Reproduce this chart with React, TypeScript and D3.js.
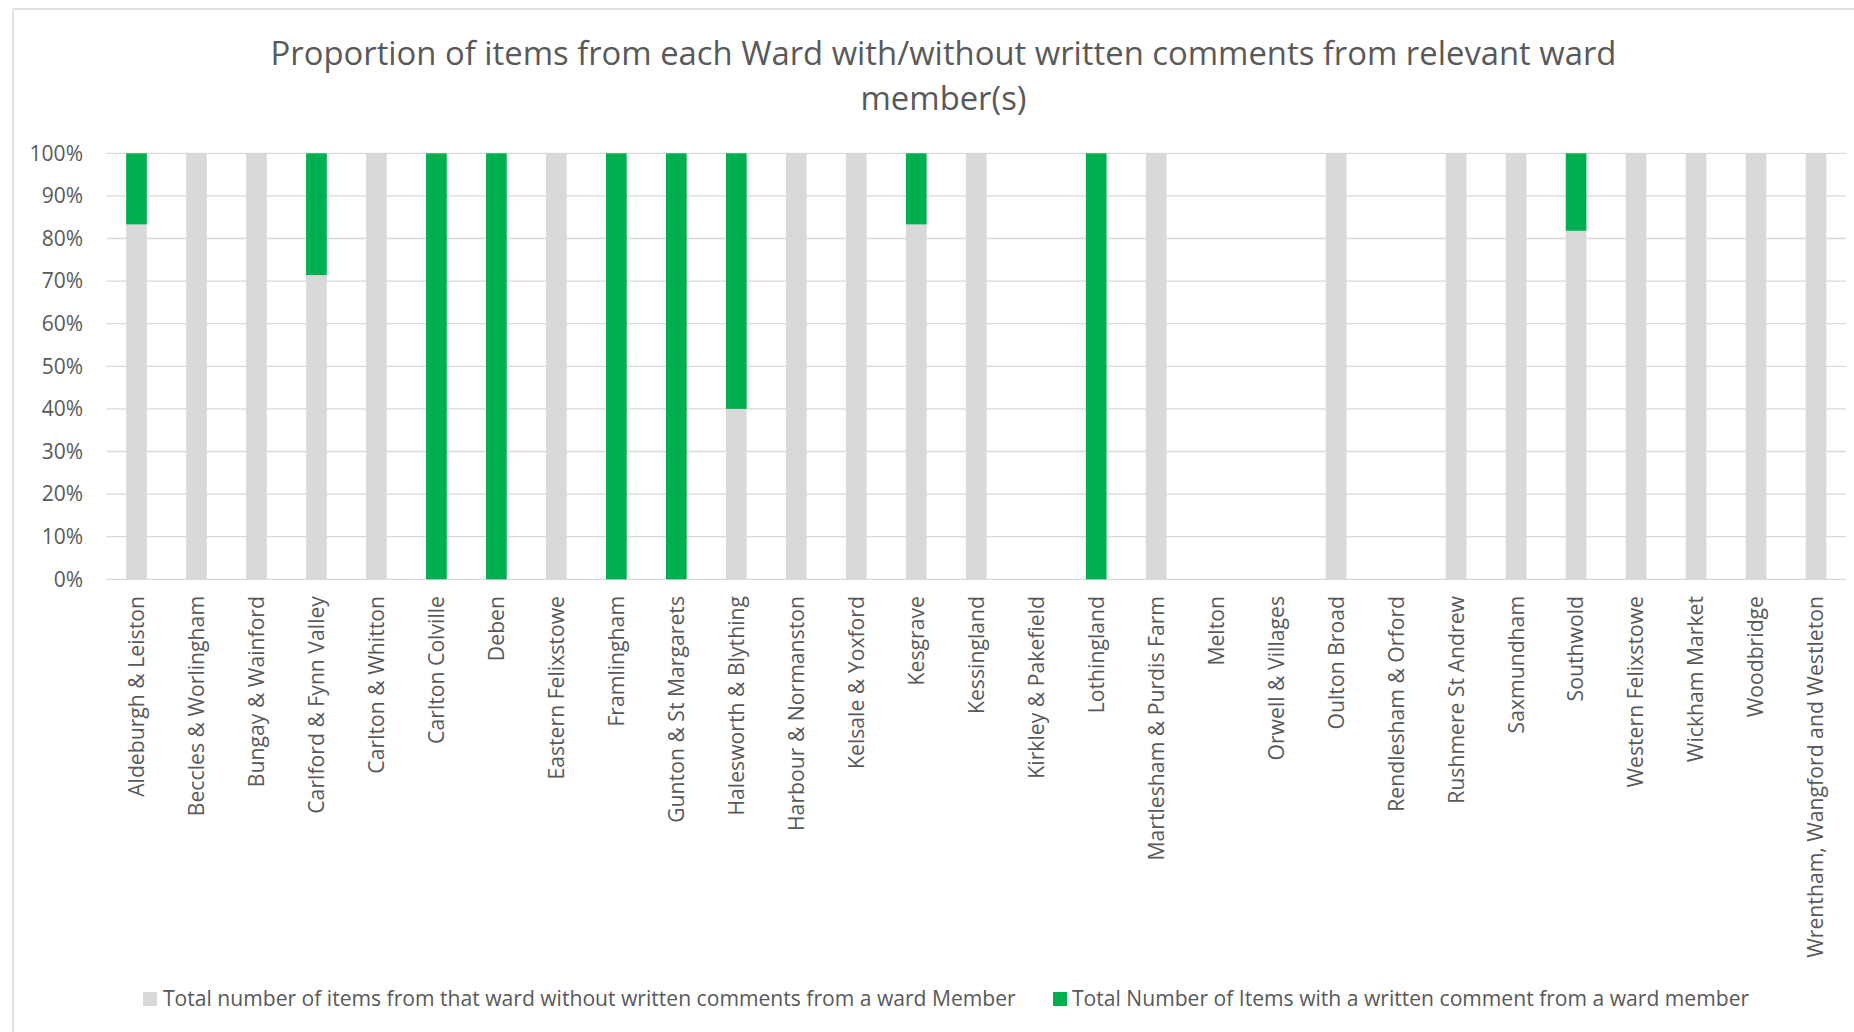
import React from "react";
import * as d3 from "d3";

const wards: string[] = [
  "Aldeburgh & Leiston",
  "Beccles & Worlingham",
  "Bungay & Wainford",
  "Carlford & Fynn Valley",
  "Carlton & Whitton",
  "Carlton Colville",
  "Deben",
  "Eastern Felixstowe",
  "Framlingham",
  "Gunton & St Margarets",
  "Halesworth & Blything",
  "Harbour & Normanston",
  "Kelsale & Yoxford",
  "Kesgrave",
  "Kessingland",
  "Kirkley & Pakefield",
  "Lothingland",
  "Martlesham & Purdis Farm",
  "Melton",
  "Orwell & Villages",
  "Oulton Broad",
  "Rendlesham & Orford",
  "Rushmere St Andrew",
  "Saxmundham",
  "Southwold",
  "Western Felixstowe",
  "Wickham Market",
  "Woodbridge",
  "Wrentham, Wangford and Westleton",
];

// share of items without a written comment from a ward member
const withoutComments: number[] = [
  0.833, 1, 1, 0.714, 1, 0, 0, 1, 0, 0, 0.4, 1, 1, 0.833, 1, 0, 0, 1, 0, 0, 1, 0, 1, 1, 0.818, 1, 1, 1, 1,
];

// share of items with a written comment from a ward member
const withComments: number[] = [
  0.167, 0, 0, 0.286, 0, 1, 1, 0, 1, 1, 0.6, 0, 0, 0.167, 0, 0, 1, 0, 0, 0, 0, 0, 0, 0, 0.182, 0, 0, 0, 0,
];

const yTicks: number[] = [0, 0.1, 0.2, 0.3, 0.4, 0.5, 0.6, 0.7, 0.8, 0.9, 1];

const titleLines: string[] = [
  "Proportion of items from each Ward with/without written comments from relevant ward",
  "member(s)",
];

const seriesNames: string[] = [
  "Total number of items from that ward without written comments from a ward Member",
  "Total Number of Items with a written comment from a ward member",
];

const GREY = "#D9D9D9";
const GREEN = "#00B050";
const TEXT = "#595959";
const FONT = "'Open Sans', 'Noto Sans', sans-serif";

export default function App() {
  const W = 1854;
  const H = 1032;
  const plotLeft = 106.5;
  const plotRight = 1846;
  const plotTop = 153.3;
  const plotBottom = 579.3;

  const x = d3
    .scaleBand<string>()
    .domain(wards)
    .range([plotLeft, plotRight])
    .paddingInner(0.655)
    .paddingOuter(0.3275);

  const y = d3.scaleLinear().domain([0, 1]).range([plotBottom, plotTop]);
  const fmt = d3.format(".0%");

  return (
    <svg
      width={W}
      height={H}
      style={{ position: "absolute", left: 0, top: 0, background: "#fff" }}
      fontFamily={FONT}
    >
      <rect x={0} y={0} width={W} height={H} fill="#fff" />
      {/* chart area border */}
      <line x1={13} x2={W} y1={9} y2={9} stroke={GREY} strokeWidth={1.5} />
      <line x1={13} x2={13} y1={9} y2={H} stroke={GREY} strokeWidth={1.5} />

      {/* title */}
      {titleLines.map((t, i) => (
        <text
          key={t}
          x={943.5}
          y={65 + i * 45}
          textAnchor="middle"
          fontSize={32.8}
          fill={TEXT}
        >
          {t}
        </text>
      ))}

      {/* gridlines */}
      {yTicks.map((t) => (
        <line
          key={"g" + t}
          x1={plotLeft}
          x2={plotRight}
          y1={y(t)}
          y2={y(t)}
          stroke={GREY}
          strokeWidth={1.3}
        />
      ))}

      {/* y tick labels */}
      {yTicks.map((t) => (
        <text
          key={"t" + t}
          x={83}
          y={y(t)}
          dy="0.35em"
          textAnchor="end"
          fontSize={21}
          fill={TEXT}
        >
          {fmt(t)}
        </text>
      ))}

      {/* bars */}
      {wards.map((w, i) => {
        const g0 = 0;
        const g1 = withoutComments[i];
        const c1 = g1 + withComments[i];
        const bx = x(w)!;
        const bw = x.bandwidth();
        return (
          <g key={w}>
            {g1 > 0 && (
              <rect x={bx} y={y(g1)} width={bw} height={y(g0) - y(g1)} fill={GREY} />
            )}
            {withComments[i] > 0 && (
              <rect x={bx} y={y(c1)} width={bw} height={y(g1) - y(c1)} fill={GREEN} />
            )}
          </g>
        );
      })}

      {/* category labels */}
      {wards.map((w) => {
        const cx = x(w)! + x.bandwidth() / 2;
        return (
          <text
            key={"l" + w}
            transform={`translate(${cx},${596}) rotate(-90)`}
            dy="0.35em"
            textAnchor="end"
            fontSize={21.2}
            fill={TEXT}
          >
            {w}
          </text>
        );
      })}

      {/* legend */}
      <rect x={143} y={992} width={14} height={14} fill={GREY} />
      <text x={163} y={999} dy="0.35em" fontSize={21.1} fill={TEXT}>
        {seriesNames[0]}
      </text>
      <rect x={1053} y={992} width={14} height={14} fill={GREEN} />
      <text x={1072} y={999} dy="0.35em" fontSize={21.1} fill={TEXT}>
        {seriesNames[1]}
      </text>
    </svg>
  );
}
